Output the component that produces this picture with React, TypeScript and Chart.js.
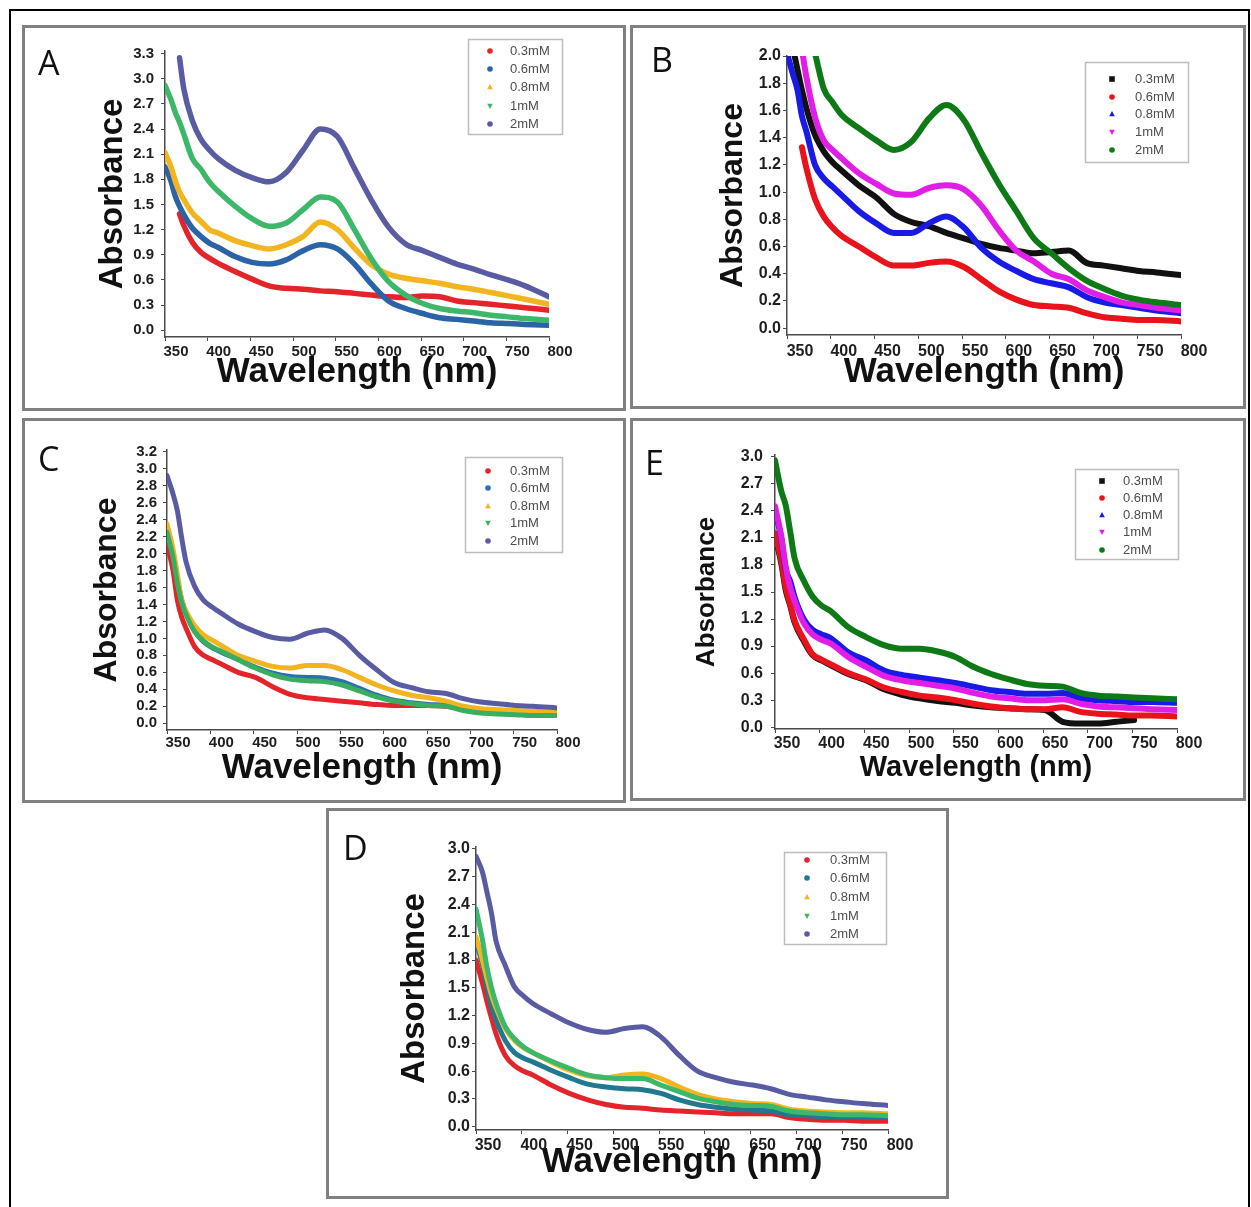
import React, { useEffect, useRef } from 'react';
import { Chart, registerables } from 'chart.js';

Chart.register(...registerables);

// ---------- DATA ----------
const WAVELENGTHS = [350, 357, 362, 367, 372, 382, 392, 402, 412, 432, 452, 472, 492, 512, 532, 552, 572, 592, 612, 632, 652, 672, 692, 712, 732, 752, 772, 800];
const LEGEND_LABELS = ['0.3mM', '0.6mM', '0.8mM', '1mM', '2mM'];
const X_MIN = 350;
const X_MAX = 800;
const X_STEP = 50;

// Panel A
const A_03 = [null, null, null, 1.39, 1.25, 1.05, 0.93, 0.86, 0.80, 0.70, 0.61, 0.53, 0.50, 0.49, 0.47, 0.46, 0.44, 0.42, 0.40, 0.39, 0.41, 0.40, 0.35, 0.33, 0.31, 0.29, 0.27, 0.24];
const A_06 = [1.95, 1.78, 1.60, 1.48, 1.38, 1.22, 1.12, 1.04, 0.99, 0.88, 0.81, 0.79, 0.84, 0.95, 1.02, 0.97, 0.79, 0.55, 0.35, 0.26, 0.20, 0.15, 0.13, 0.11, 0.09, 0.08, 0.07, 0.06];
const A_08 = [2.12, 1.95, 1.78, 1.65, 1.56, 1.40, 1.30, 1.20, 1.16, 1.07, 1.01, 0.97, 1.02, 1.12, 1.29, 1.20, 0.98, 0.78, 0.67, 0.62, 0.59, 0.56, 0.52, 0.49, 0.45, 0.41, 0.37, 0.31];
const A_1 = [2.92, 2.75, 2.60, 2.48, 2.34, 2.05, 1.92, 1.77, 1.66, 1.48, 1.33, 1.24, 1.28, 1.44, 1.59, 1.53, 1.20, 0.85, 0.58, 0.42, 0.32, 0.26, 0.23, 0.21, 0.18, 0.16, 0.14, 0.12];
const A_2 = [null, null, null, 3.25, 2.88, 2.50, 2.28, 2.15, 2.05, 1.91, 1.82, 1.77, 1.88, 2.15, 2.40, 2.31, 1.93, 1.55, 1.23, 1.03, 0.95, 0.87, 0.79, 0.73, 0.66, 0.60, 0.53, 0.40];

// Panel B
const B_03 = [null, 2.05, 1.90, 1.75, 1.62, 1.42, 1.30, 1.22, 1.16, 1.05, 0.96, 0.84, 0.78, 0.75, 0.70, 0.66, 0.62, 0.59, 0.57, 0.55, 0.56, 0.57, 0.48, 0.46, 0.44, 0.42, 0.41, 0.39];
const B_06 = [null, null, null, 1.33, 1.18, 0.95, 0.82, 0.74, 0.68, 0.60, 0.52, 0.46, 0.46, 0.48, 0.49, 0.45, 0.36, 0.27, 0.21, 0.17, 0.16, 0.15, 0.11, 0.08, 0.07, 0.06, 0.06, 0.05];
const B_08 = [2.02, 1.86, 1.75, 1.56, 1.45, 1.20, 1.10, 1.04, 0.98, 0.86, 0.77, 0.70, 0.70, 0.77, 0.82, 0.74, 0.59, 0.49, 0.42, 0.36, 0.33, 0.30, 0.23, 0.19, 0.17, 0.15, 0.13, 0.11];
const B_1 = [null, null, null, 2.05, 1.85, 1.55, 1.38, 1.31, 1.25, 1.14, 1.06, 0.99, 0.98, 1.03, 1.05, 1.02, 0.90, 0.72, 0.57, 0.49, 0.40, 0.36, 0.28, 0.23, 0.19, 0.17, 0.15, 0.13];
const B_2 = [null, null, null, null, null, 2.02, 1.76, 1.66, 1.57, 1.47, 1.38, 1.31, 1.37, 1.54, 1.64, 1.53, 1.29, 1.06, 0.86, 0.66, 0.55, 0.44, 0.35, 0.29, 0.24, 0.21, 0.19, 0.17];

// Panel C
const C_03 = [2.10, 1.80, 1.45, 1.25, 1.12, 0.90, 0.80, 0.75, 0.70, 0.60, 0.54, 0.43, 0.34, 0.30, 0.28, 0.26, 0.24, 0.22, 0.21, 0.21, 0.21, 0.20, 0.17, 0.15, 0.14, 0.13, 0.12, 0.11];
const C_06 = [2.30, 2.00, 1.70, 1.45, 1.30, 1.08, 0.96, 0.89, 0.84, 0.75, 0.66, 0.59, 0.55, 0.54, 0.53, 0.49, 0.41, 0.33, 0.27, 0.24, 0.22, 0.21, 0.16, 0.14, 0.13, 0.12, 0.11, 0.10];
const C_08 = [2.35, 2.05, 1.75, 1.45, 1.32, 1.15, 1.04, 0.98, 0.92, 0.80, 0.73, 0.67, 0.65, 0.68, 0.68, 0.63, 0.54, 0.45, 0.38, 0.33, 0.30, 0.26, 0.20, 0.17, 0.16, 0.15, 0.14, 0.13];
const C_1 = [2.25, 1.95, 1.65, 1.42, 1.28, 1.08, 0.97, 0.90, 0.85, 0.75, 0.65, 0.57, 0.52, 0.50, 0.49, 0.45, 0.38, 0.31, 0.26, 0.23, 0.21, 0.20, 0.15, 0.12, 0.11, 0.10, 0.09, 0.09];
const C_2 = [2.92, 2.70, 2.50, 2.18, 1.90, 1.61, 1.45, 1.37, 1.30, 1.17, 1.08, 1.01, 0.99, 1.06, 1.10, 1.00, 0.80, 0.63, 0.48, 0.42, 0.37, 0.35, 0.29, 0.25, 0.23, 0.21, 0.20, 0.18];

// Panel E
const E_03 = [2.12, 1.82, 1.52, 1.35, 1.16, 0.96, 0.80, 0.74, 0.69, 0.59, 0.52, 0.42, 0.36, 0.32, 0.29, 0.27, 0.24, 0.22, 0.21, 0.20, 0.19, 0.06, 0.04, 0.04, 0.06, 0.08, null, null];
const E_06 = [2.15, 1.85, 1.55, 1.37, 1.18, 0.98, 0.81, 0.75, 0.70, 0.60, 0.53, 0.44, 0.39, 0.35, 0.33, 0.30, 0.26, 0.23, 0.21, 0.20, 0.20, 0.22, 0.17, 0.15, 0.14, 0.13, 0.13, 0.12];
const E_08 = [2.40, 2.10, 1.75, 1.62, 1.44, 1.20, 1.08, 1.03, 0.99, 0.83, 0.74, 0.63, 0.58, 0.55, 0.52, 0.49, 0.45, 0.41, 0.39, 0.37, 0.37, 0.38, 0.32, 0.30, 0.29, 0.28, 0.28, 0.27];
const E_1 = [2.45, 2.12, 1.78, 1.55, 1.40, 1.16, 1.03, 0.97, 0.93, 0.78, 0.67, 0.57, 0.52, 0.49, 0.46, 0.43, 0.38, 0.34, 0.32, 0.30, 0.30, 0.31, 0.26, 0.23, 0.22, 0.21, 0.20, 0.19];
const E_2 = [2.96, 2.62, 2.46, 2.17, 1.87, 1.63, 1.45, 1.35, 1.29, 1.11, 1.00, 0.91, 0.87, 0.87, 0.84, 0.78, 0.67, 0.59, 0.53, 0.48, 0.46, 0.45, 0.38, 0.35, 0.34, 0.33, 0.32, 0.31];

// Panel D
const D_03 = [1.80, 1.55, 1.35, 1.17, 1.00, 0.77, 0.66, 0.60, 0.56, 0.45, 0.36, 0.29, 0.24, 0.21, 0.20, 0.18, 0.17, 0.16, 0.15, 0.14, 0.14, 0.14, 0.10, 0.08, 0.07, 0.07, 0.06, 0.06];
const D_06 = [2.00, 1.75, 1.50, 1.30, 1.15, 0.93, 0.80, 0.74, 0.70, 0.61, 0.53, 0.46, 0.43, 0.41, 0.40, 0.36, 0.29, 0.24, 0.21, 0.19, 0.18, 0.17, 0.13, 0.12, 0.11, 0.11, 0.10, 0.10];
const D_08 = [2.05, 1.80, 1.60, 1.42, 1.28, 1.06, 0.93, 0.85, 0.80, 0.70, 0.61, 0.55, 0.53, 0.56, 0.57, 0.52, 0.43, 0.35, 0.30, 0.27, 0.25, 0.24, 0.19, 0.17, 0.16, 0.15, 0.15, 0.14];
const D_1 = [2.35, 2.02, 1.72, 1.50, 1.33, 1.08, 0.95, 0.86, 0.80, 0.71, 0.63, 0.56, 0.53, 0.52, 0.52, 0.45, 0.38, 0.31, 0.27, 0.24, 0.23, 0.22, 0.17, 0.15, 0.14, 0.13, 0.13, 0.12];
const D_2 = [2.92, 2.75, 2.53, 2.30, 2.00, 1.74, 1.51, 1.41, 1.33, 1.22, 1.12, 1.05, 1.02, 1.06, 1.08, 0.97, 0.77, 0.60, 0.53, 0.48, 0.45, 0.41, 0.35, 0.32, 0.29, 0.27, 0.25, 0.23];

// ---------- STYLES ----------
const COLORS_ACD_A = ['#E3242B', '#2A64A6', '#F2B51F', '#3DB86A', '#5A5CA3'];
const COLORS_ACD_C = ['#E3242B', '#2A6FB0', '#F2B51F', '#3AAE60', '#5A5CA3'];
const COLORS_ACD_D = ['#E3242B', '#20798F', '#F2B51F', '#3DB86A', '#5A5CA3'];
const COLORS_BE = ['#111111', '#E8131B', '#1A1AE6', '#E11EE6', '#0E7A16'];
const MARKERS_ACD = ['circle', 'circle', 'triangle', 'triangleDown', 'circle'];
const MARKERS_BE = ['rect', 'circle', 'triangle', 'triangleDown', 'circle'];

const FONT = '"Liberation Sans", Arial, sans-serif';

type Box = { x: number; y: number; w: number; h: number };
type PanelSpec = {
  letter: string;
  letterPos: { x: number; y: number };
  box: Box;
  area: { left: number; right: number; top: number; bottom: number };
  yMin: number;
  yMax: number;
  yStep: number;
  series: (number | null)[][];
  colors: string[];
  markers: string[];
  tickFont: number;
  yTitleSize: number;
  yTitleX: number;
  xTitleSize: number;
  xTitleY: number;
  xLabelOffset: number;
  xTickPad: number;
  yTickPad: number;
  lineWidth: number;
  legend: { x: number; y: number; w: number; h: number; rows: number[]; markerX: number; textX: number };
};

const PANELS: PanelSpec[] = [
  {
    letter: 'A', letterPos: { x: 38, y: 45 },
    box: { x: 22, y: 25, w: 604, h: 386 },
    area: { left: 165, right: 549, top: 51, bottom: 337 },
    yMin: -0.08, yMax: 3.33, yStep: 0.3,
    series: [A_03, A_06, A_08, A_1, A_2], colors: COLORS_ACD_A, markers: MARKERS_ACD,
    tickFont: 15, yTitleSize: 33, yTitleX: 113, xTitleSize: 35, xTitleY: 372,
    xLabelOffset: 11, xTickPad: 2, yTickPad: 7, lineWidth: 5.5,
    legend: { x: 468, y: 39, w: 95, h: 96, rows: [51, 69, 87, 106, 124], markerX: 490, textX: 510 },
  },
  {
    letter: 'B', letterPos: { x: 651, y: 42 },
    box: { x: 630, y: 25, w: 616, h: 384 },
    area: { left: 787, right: 1181, top: 56, bottom: 335 },
    yMin: -0.05, yMax: 2.0, yStep: 0.2,
    series: [B_03, B_06, B_08, B_1, B_2], colors: COLORS_BE, markers: MARKERS_BE,
    tickFont: 16, yTitleSize: 32, yTitleX: 733, xTitleSize: 35, xTitleY: 372,
    xLabelOffset: 13, xTickPad: 3, yTickPad: 2, lineWidth: 6,
    legend: { x: 1085, y: 62, w: 104, h: 101, rows: [79, 97, 114, 132, 150], markerX: 1112, textX: 1135 },
  },
  {
    letter: 'C', letterPos: { x: 38, y: 441 },
    box: { x: 22, y: 418, w: 604, h: 385 },
    area: { left: 167, right: 557, top: 450, bottom: 730 },
    yMin: -0.08, yMax: 3.22, yStep: 0.2,
    series: [C_03, C_06, C_08, C_1, C_2], colors: COLORS_ACD_C, markers: MARKERS_ACD,
    tickFont: 15, yTitleSize: 32, yTitleX: 107, xTitleSize: 35, xTitleY: 768,
    xLabelOffset: 11, xTickPad: 0, yTickPad: 6, lineWidth: 5,
    legend: { x: 465, y: 457, w: 98, h: 96, rows: [471, 488, 506, 523, 541], markerX: 488, textX: 510 },
  },
  {
    letter: 'E', letterPos: { x: 645, y: 445 },
    box: { x: 630, y: 418, w: 616, h: 383 },
    area: { left: 775, right: 1177, top: 455, bottom: 729 },
    yMin: -0.02, yMax: 3.02, yStep: 0.3,
    series: [E_03, E_06, E_08, E_1, E_2], colors: COLORS_BE, markers: MARKERS_BE,
    tickFont: 16, yTitleSize: 26, yTitleX: 707, xTitleSize: 29, xTitleY: 768,
    xLabelOffset: 12, xTickPad: 1, yTickPad: 8, lineWidth: 6,
    legend: { x: 1075, y: 469, w: 104, h: 91, rows: [481, 498, 515, 532, 550], markerX: 1102, textX: 1123 },
  },
  {
    letter: 'D', letterPos: { x: 343, y: 830 },
    box: { x: 326, y: 808, w: 623, h: 391 },
    area: { left: 476, right: 888, top: 847, bottom: 1130 },
    yMin: -0.035, yMax: 3.02, yStep: 0.3,
    series: [D_03, D_06, D_08, D_1, D_2], colors: COLORS_ACD_D, markers: MARKERS_ACD,
    tickFont: 16, yTitleSize: 33, yTitleX: 415, xTitleSize: 35, xTitleY: 1162,
    xLabelOffset: 12, xTickPad: 2, yTickPad: 2, lineWidth: 5,
    legend: { x: 784, y: 852, w: 103, h: 93, rows: [860, 878, 897, 916, 934], markerX: 807, textX: 830 },
  },
];

// ---------- LEGEND PLUGIN ----------
function drawMarker(ctx: CanvasRenderingContext2D, style: string, x: number, y: number, r: number, color: string) {
  ctx.fillStyle = color;
  ctx.beginPath();
  if (style === 'rect') {
    ctx.rect(x - r, y - r, 2 * r, 2 * r);
  } else if (style === 'triangle') {
    ctx.moveTo(x, y - r * 1.1);
    ctx.lineTo(x + r, y + r * 0.8);
    ctx.lineTo(x - r, y + r * 0.8);
    ctx.closePath();
  } else if (style === 'triangleDown') {
    ctx.moveTo(x, y + r * 1.1);
    ctx.lineTo(x + r, y - r * 0.8);
    ctx.lineTo(x - r, y - r * 0.8);
    ctx.closePath();
  } else {
    ctx.arc(x, y, r, 0, Math.PI * 2);
  }
  ctx.fill();
}

const insetLegend = {
  id: 'insetLegend',
  afterDraw(chart: any, _args: any, opts: any) {
    if (!opts || !opts.box) return;
    const ctx: CanvasRenderingContext2D = chart.ctx;
    const { box, rows, markerX, textX, markers } = opts;
    ctx.save();
    ctx.fillStyle = '#ffffff';
    ctx.fillRect(box.x, box.y, box.w, box.h);
    ctx.strokeStyle = '#bdbdbd';
    ctx.lineWidth = 1.5;
    ctx.strokeRect(box.x + 0.5, box.y + 0.5, box.w - 1, box.h - 1);
    chart.data.datasets.forEach((ds: any, i: number) => {
      const y = rows[i];
      drawMarker(ctx, markers[i], markerX, y, 2.8, ds.borderColor);
      ctx.fillStyle = '#4d4d4d';
      ctx.font = `13px ${FONT}`;
      ctx.textBaseline = 'middle';
      ctx.textAlign = 'left';
      ctx.fillText(ds.label, textX, y);
    });
    ctx.restore();
  },
};

// ---------- COMPONENTS ----------
function ChartPanel({ spec }: { spec: PanelSpec }) {
  const ref = useRef<HTMLCanvasElement>(null);
  useEffect(() => {
    const { box, area } = spec;
    const yW = area.left - box.x;
    const xH = box.y + box.h - area.bottom;
    const padTop = area.top - box.y;
    const padRight = box.x + box.w - area.right;
    const yLine = spec.yTitleSize * 1.2;
    const xLine = spec.xTitleSize * 1.2;
    const yTitlePad = spec.yTitleX - box.x - yLine / 2;
    const xTitlePad = box.y + box.h - spec.xTitleY - xLine / 2;
    const n = spec.series.length;

    const chart = new Chart(ref.current as HTMLCanvasElement, {
      type: 'line',
      data: {
        datasets: spec.series.map((vals, i) => ({
          label: LEGEND_LABELS[i],
          data: WAVELENGTHS.map((x, j) => ({ x, y: vals[j] })),
          borderColor: spec.colors[i],
          backgroundColor: spec.colors[i],
          borderWidth: spec.lineWidth,
          pointRadius: 0,
          fill: false,
          cubicInterpolationMode: 'monotone',
          spanGaps: false,
          borderCapStyle: 'round',
          borderJoinStyle: 'round',
          order: n - 1 - i,
        })) as any,
      },
      options: {
        responsive: false,
        animation: false,
        events: [],
        layout: { padding: { left: 0, top: padTop, right: padRight, bottom: 0 } },
        plugins: {
          legend: { display: false },
          tooltip: { enabled: false },
          insetLegend: {
            box: { x: spec.legend.x - box.x, y: spec.legend.y - box.y, w: spec.legend.w, h: spec.legend.h },
            rows: spec.legend.rows.map((r) => r - box.y),
            markerX: spec.legend.markerX - box.x,
            textX: spec.legend.textX - box.x,
            markers: spec.markers,
          },
        } as any,
        scales: {
          x: {
            type: 'linear',
            min: X_MIN,
            max: X_MAX,
            afterFit: (s: any) => { s.height = xH; },
            border: { display: true, color: '#4a4a4a', width: 1.5 },
            grid: { display: true, drawOnChartArea: false, drawTicks: true, tickLength: 4, color: '#4a4a4a', lineWidth: 1 },
            ticks: {
              stepSize: X_STEP,
              includeBounds: false,
              autoSkip: false,
              maxRotation: 0,
              minRotation: 0,
              labelOffset: spec.xLabelOffset,
              padding: spec.xTickPad,
              color: '#1e1e1e',
              font: { family: FONT, size: spec.tickFont, weight: 'bold' },
              callback: (v: any) => String(v),
            },
            title: {
              display: true,
              text: 'Wavelength (nm)',
              color: '#111111',
              font: { family: FONT, size: spec.xTitleSize, weight: 'bold', lineHeight: 1.2 },
              padding: { top: 0, bottom: xTitlePad },
            },
          },
          y: {
            type: 'linear',
            min: spec.yMin,
            max: spec.yMax,
            afterFit: (s: any) => { s.width = yW; },
            border: { display: true, color: '#4a4a4a', width: 1.5 },
            grid: { display: true, drawOnChartArea: false, drawTicks: true, tickLength: 4, color: '#4a4a4a', lineWidth: 1 },
            ticks: {
              stepSize: spec.yStep,
              includeBounds: false,
              autoSkip: false,
              padding: spec.yTickPad,
              color: '#1e1e1e',
              font: { family: FONT, size: spec.tickFont, weight: 'bold' },
              callback: (v: any) => Number(v).toFixed(1),
            },
            title: {
              display: true,
              text: 'Absorbance',
              color: '#111111',
              font: { family: FONT, size: spec.yTitleSize, weight: 'bold', lineHeight: 1.2 },
              padding: { top: yTitlePad, bottom: 0 },
            },
          },
        } as any,
      },
      plugins: [insetLegend],
    });
    return () => chart.destroy();
  }, [spec]);

  const { box } = spec;
  return (
    <>
      <div
        style={{
          position: 'absolute', left: box.x, top: box.y, width: box.w, height: box.h,
          border: '3px solid #808080', boxSizing: 'border-box', background: '#ffffff',
        }}
      />
      <canvas
        ref={ref}
        width={box.w}
        height={box.h}
        style={{ position: 'absolute', left: box.x, top: box.y, width: box.w, height: box.h }}
      />
      <div
        style={{
          position: 'absolute', left: spec.letterPos.x, top: spec.letterPos.y,
          fontFamily: '"Open Sans", "Liberation Sans", sans-serif', fontSize: 34, lineHeight: 1,
          color: '#111', fontWeight: 400,
        }}
      >
        {spec.letter}
      </div>
    </>
  );
}

export default function App() {
  return (
    <div style={{ position: 'absolute', left: 0, top: 0, width: 1251, height: 1207, overflow: 'hidden', background: '#ffffff' }}>
      <div
        style={{
          position: 'absolute', left: 9, top: 9, width: 1241, height: 1210,
          borderTop: '2px solid #000', borderLeft: '2px solid #000', borderRight: '2px solid #000',
          boxSizing: 'border-box',
        }}
      />
      {PANELS.map((p) => (
        <ChartPanel key={p.letter} spec={p} />
      ))}
    </div>
  );
}
